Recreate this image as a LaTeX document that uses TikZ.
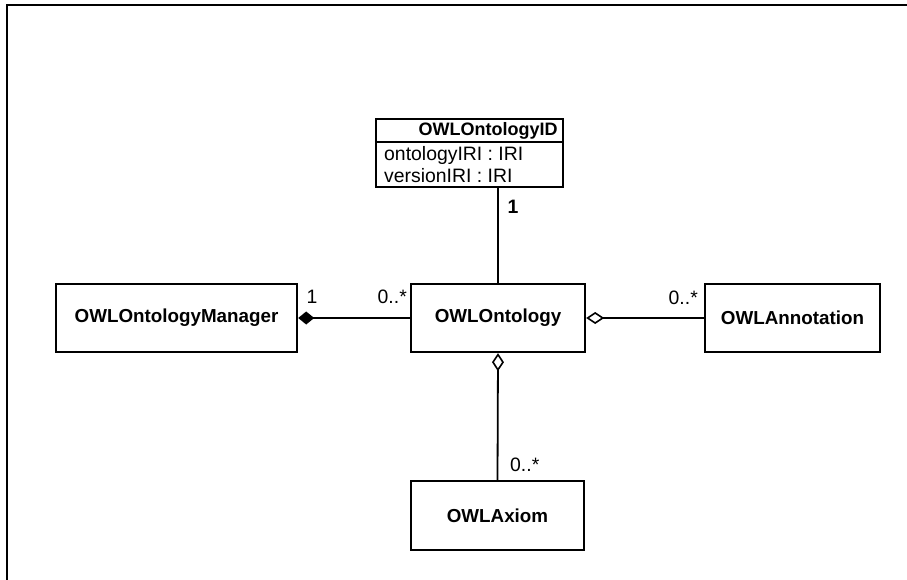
\documentclass[tikz,border=0pt]{standalone}
\usepackage{fontspec}
\setmainfont{Liberation Sans}
\usetikzlibrary{arrows.meta}
\begin{document}
\begin{tikzpicture}[x=1pt,y=-1pt,
  cls/.style={draw,line width=2.4pt,fill=white,inner sep=0pt,
    font=\fontsize{18.8}{22}\selectfont\bfseries},
  assoc/.style={line width=1.8pt},
  lbl/.style={font=\fontsize{19.4}{22}\selectfont,inner sep=0pt},
  comp/.style={assoc,{Diamond[length=16pt,width=13pt,fill=black]}-},
  aggr/.style={assoc,{Diamond[length=18pt,width=12pt,open,fill=white,line width=1.6pt]}-}]
\useasboundingbox (0,0) rectangle (907,580);
\fill[white] (0,0) rectangle (907,580);
% frame (top and left edges only)
\draw[line width=2pt] (7,580) -- (7,5) -- (907,5);

% classes
\node[cls,minimum width=241pt,minimum height=68pt] (man) at (176.5,318) {OWLOntologyManager};
\node[cls,minimum width=174pt,minimum height=68pt] (ont) at (498,318) {OWLOntology};
\node[cls,minimum width=175pt,minimum height=68pt] (ann) at (792.5,318) {OWLAnnotation};
\node[cls,minimum width=173pt,minimum height=69pt] (axm) at (497.5,515.5) {OWLAxiom};

% OWLOntologyID with its attribute compartment
\node[cls,minimum width=187pt,minimum height=68pt] (oid) at (469.5,153) {};
\draw[line width=2pt] (oid.west |- 0,142) -- (oid.east |- 0,142);
\node[font=\fontsize{18}{21}\selectfont\bfseries,inner sep=0pt] (oidname) at (488,130.5) {OWLOntologyID};
\node[lbl,anchor=west] (attr1) at (384,155) {ontologyIRI : IRI};
\node[lbl,anchor=west] (attr2) at (384,175.5) {versionIRI : IRI};

% associations
\draw[assoc] (ont.north) -- (ont.north |- oid.south);
\draw[comp] (man.east) -- (ont.west);
\draw[aggr] (ont.east) -- (ann.west);
\draw[aggr] (ont.south) -- (axm.north);

% multiplicities
\node[lbl,font=\fontsize{19.4}{22}\selectfont\bfseries] (m1) at (513,207) {1};
\node[lbl] (m2) at (312,297) {1};
\node[lbl,anchor=east] (m3) at (407,297) {0..*};
\node[lbl,anchor=east] (m4) at (698,298) {0..*};
\node[lbl,anchor=west] (m5) at (510,465) {0..*};
\end{tikzpicture}
\end{document}
